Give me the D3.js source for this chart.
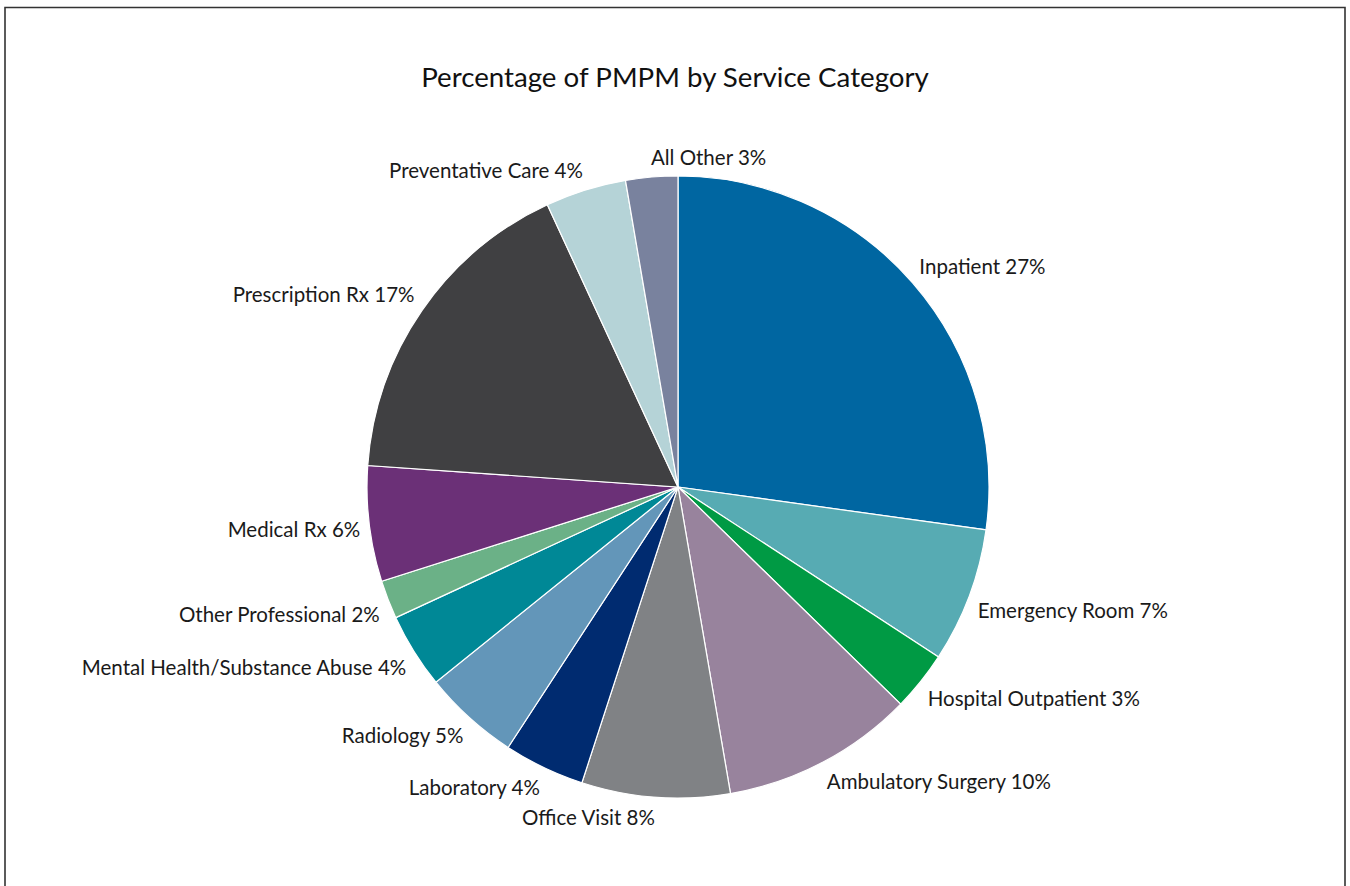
<!DOCTYPE html>
<html><head><meta charset="utf-8">
<script src="https://cdn.jsdelivr.net/npm/d3@7"></script>
<style>
html,body{margin:0;padding:0;background:#fff;}
svg{display:block;}
text{font-family:"Lato","Open Sans",sans-serif;fill:#1a1a1a;}
</style></head>
<body>
<svg id="chart" width="1350" height="886"></svg>
<script>
const title = "Percentage of PMPM by Service Category";
const categories = ["Inpatient","Emergency Room","Hospital Outpatient","Ambulatory Surgery","Office Visit","Laboratory","Radiology","Mental Health/Substance Abuse","Other Professional","Medical Rx","Prescription Rx","Preventative Care","All Other"];
const values = [27.2,7.0,3.1,10.0,7.7,4.2,5.0,3.9,2.0,6.0,17.0,4.2,2.7];
const labelPercents = ["27%","7%","3%","10%","8%","4%","5%","4%","2%","6%","17%","4%","3%"];
const colors = ["#0066a1","#57abb3","#009a44","#98839d","#808285","#002b70","#6396b9","#008896","#6bb187","#6b3077","#404042","#b5d3d7","#79829e"];

const W = 1350, H = 886;
const cx = 678, cy = 487, R = 311;
const svg = d3.select("#chart");

// frame
svg.append("path")
  .attr("d", `M5,${H} V7.5 H1345 V${H}`)
  .attr("fill","none").attr("stroke","#333").attr("stroke-width",1.6);

svg.append("text").attr("x",675).attr("y",87).attr("text-anchor","middle")
  .style("font-size","27.7px").style("fill","#111").text(title);

const data = categories.map((c,i)=>({name:c,value:values[i],pct:labelPercents[i],color:colors[i]}));
const pie = d3.pie().value(d=>d.value).sort(null);
const arcs = pie(data);
const arc = d3.arc().innerRadius(0).outerRadius(R);

const g = svg.append("g").attr("transform",`translate(${cx},${cy})`);
g.selectAll("path.slice").data(arcs).join("path").attr("class","slice")
  .attr("d",arc).attr("fill",d=>d.data.color)
  .attr("stroke","#fff").attr("stroke-width",1.2);

// labels
const fs = 20.5, h = 22, Rl = R + 9;
const placed = [];
const labels = g.selectAll("text.lbl").data(arcs).join("text").attr("class","lbl")
  .style("font-size",fs+"px").attr("dominant-baseline","central")
  .text(d=>d.data.name+" "+d.data.pct);
labels.each(function(d){
  const w = this.getComputedTextLength();
  const a = (d.startAngle+d.endAngle)/2;
  const px = Rl*Math.sin(a), py = -Rl*Math.cos(a);
  const oy = Math.max(-1,Math.min(1,-Math.cos(a)*3))*h/2;
  let side = Math.sin(a) >= 0 ? 1 : -1;
  const box = s => ({x0: s>0?px:px-w, x1: s>0?px+w:px, y0: py+oy-h/2, y1: py+oy+h/2});
  const hits = b => placed.some(p=>!(b.x1<p.x0||b.x0>p.x1||b.y1<p.y0||b.y0>p.y1));
  let b = box(side);
  if(hits(b)){ side=-side; b=box(side);}
  placed.push(b);
  d3.select(this).attr("x",(b.x0+b.x1)/2).attr("y",(b.y0+b.y1)/2).attr("text-anchor","middle");
});
</script>
</body></html>
